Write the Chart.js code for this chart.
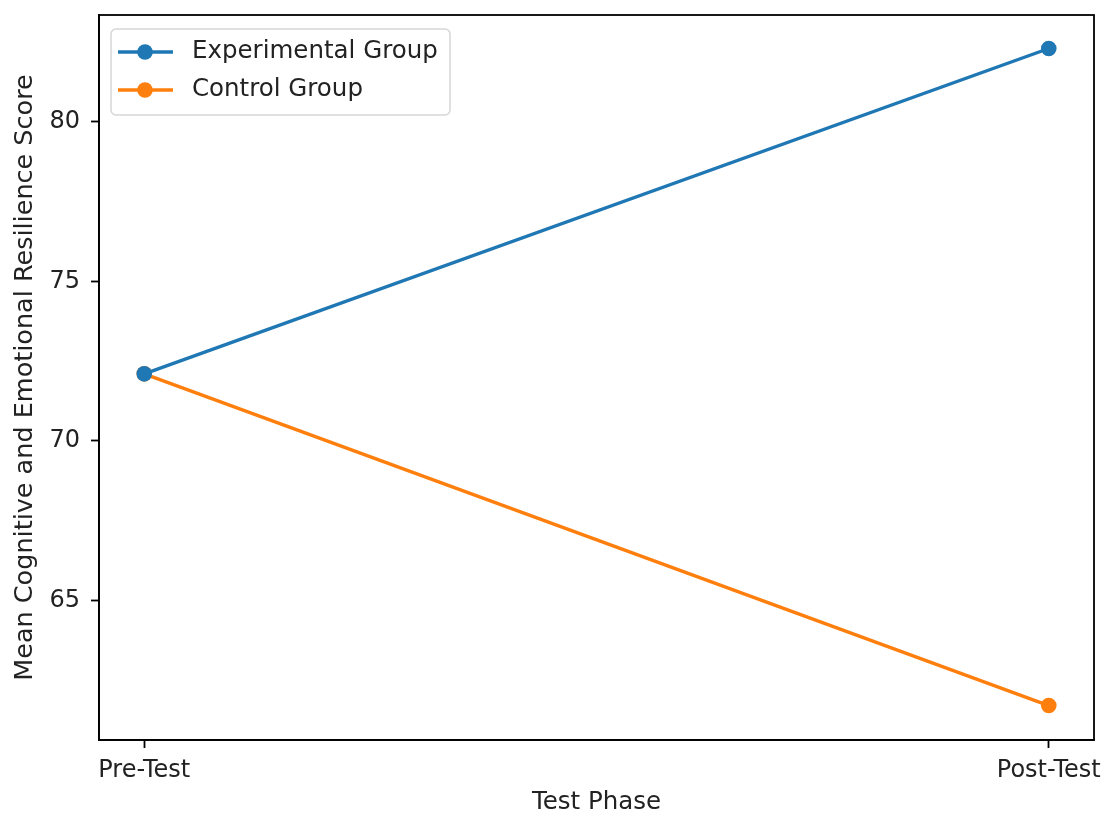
<!DOCTYPE html>
<html>
<head>
<meta charset="utf-8">
<script src="https://cdn.jsdelivr.net/npm/chart.js@4.4.1/dist/chart.umd.min.js"></script>
<style>
  html, body { margin: 0; padding: 0; background: #fff; }
  #wrap { width: 1104px; height: 817px; }
</style>
</head>
<body>
<div id="wrap"><canvas id="resilienceChart"></canvas></div>
<script>
// Data
const phases = ['Pre-Test', 'Post-Test'];
const experimentalScores = [72.1, 82.3];
const controlScores = [72.1, 61.7];
const yTicks = [65, 70, 75, 80];

const blue = '#1f77b4';
const orange = '#ff7f0e';
const FONT = '"DejaVu Sans", sans-serif';

const toPoints = vals => vals.map((v, i) => ({ x: i, y: v }));

// full frame + matplotlib style legend box
const framePlugin = {
    id: 'frame',
    afterDraw(chart) {
        const { ctx, chartArea: a } = chart;
        ctx.save();
        ctx.strokeStyle = '#000';
        ctx.lineWidth = 1.8;
        ctx.strokeRect(a.left, a.top, a.right - a.left, a.bottom - a.top);

        // legend
        const bx = 111, by = 29, bw = 339, bh = 86;
        ctx.fillStyle = 'rgba(255,255,255,0.8)';
        ctx.strokeStyle = '#d6d6d6';
        ctx.lineWidth = 1.5;
        ctx.beginPath();
        ctx.roundRect(bx, by, bw, bh, 5);
        ctx.fill();
        ctx.stroke();

        chart.data.datasets.forEach((ds, i) => {
            const y = 52 + i * 38;
            ctx.strokeStyle = ds.borderColor;
            ctx.lineWidth = 3.4;
            ctx.beginPath();
            ctx.moveTo(118, y);
            ctx.lineTo(173, y);
            ctx.stroke();
            ctx.fillStyle = ds.borderColor;
            ctx.beginPath();
            ctx.arc(145, y, 7.8, 0, Math.PI * 2);
            ctx.fill();
            ctx.fillStyle = '#222';
            ctx.font = '24.5px ' + FONT;
            ctx.textBaseline = 'middle';
            ctx.textAlign = 'left';
            ctx.fillText(ds.label, 192, y);
        });
        ctx.restore();
    }
};

const ctxRes = document.getElementById('resilienceChart').getContext('2d');
const resilienceChart = new Chart(ctxRes, {
    type: 'line',
    data: {
        datasets: [{
            label: 'Experimental Group',
            data: toPoints(experimentalScores),
            borderColor: blue,
            backgroundColor: blue,
            borderWidth: 3.4,
            pointRadius: 7.8,
            pointHoverRadius: 7.8,
            pointBorderWidth: 0
        }, {
            label: 'Control Group',
            data: toPoints(controlScores),
            borderColor: orange,
            backgroundColor: orange,
            borderWidth: 3.4,
            pointRadius: 7.8,
            pointHoverRadius: 7.8,
            pointBorderWidth: 0
        }]
    },
    options: {
        responsive: true,
        maintainAspectRatio: false,
        animation: false,
        layout: { padding: { top: 15, right: 10, left: 0, bottom: 0 } },
        plugins: {
            legend: { display: false },
            tooltip: { enabled: false }
        },
        scales: {
            x: {
                type: 'linear',
                min: -0.05,
                max: 1.05,
                afterBuildTicks: s => { s.ticks = phases.map((p, i) => ({ value: i })); },
                afterFit: s => { s.height = 77; s.paddingLeft = 0; s.paddingRight = 0; },
                ticks: {
                    callback: v => phases[v],
                    color: '#222',
                    font: { family: FONT, size: 24 },
                    padding: 8,
                    maxRotation: 0
                },
                grid: { drawOnChartArea: false, drawTicks: true, tickLength: 8, color: '#000', tickWidth: 1.8 },
                border: { display: true, color: '#000', width: 1.8 },
                title: {
                    display: true,
                    text: 'Test Phase',
                    color: '#222',
                    font: { family: FONT, size: 24.5 },
                    padding: { top: 2, bottom: 0 }
                }
            },
            y: {
                type: 'linear',
                min: 60.62,
                max: 83.35,
                afterBuildTicks: s => { s.ticks = yTicks.map(v => ({ value: v })); },
                afterFit: s => { s.width = 99; s.paddingTop = 0; s.paddingBottom = 0; },
                ticks: {
                    color: '#222',
                    font: { family: FONT, size: 24 },
                    padding: 11
                },
                grid: { drawOnChartArea: false, drawTicks: true, tickLength: 8, color: '#000', tickWidth: 1.8 },
                border: { display: true, color: '#000', width: 1.8 },
                title: {
                    display: true,
                    text: 'Mean Cognitive and Emotional Resilience Score',
                    color: '#222',
                    font: { family: FONT, size: 25.5 },
                    padding: { top: 10, bottom: 0 }
                }
            }
        }
    },
    plugins: [framePlugin]
});
</script>
</body>
</html>
